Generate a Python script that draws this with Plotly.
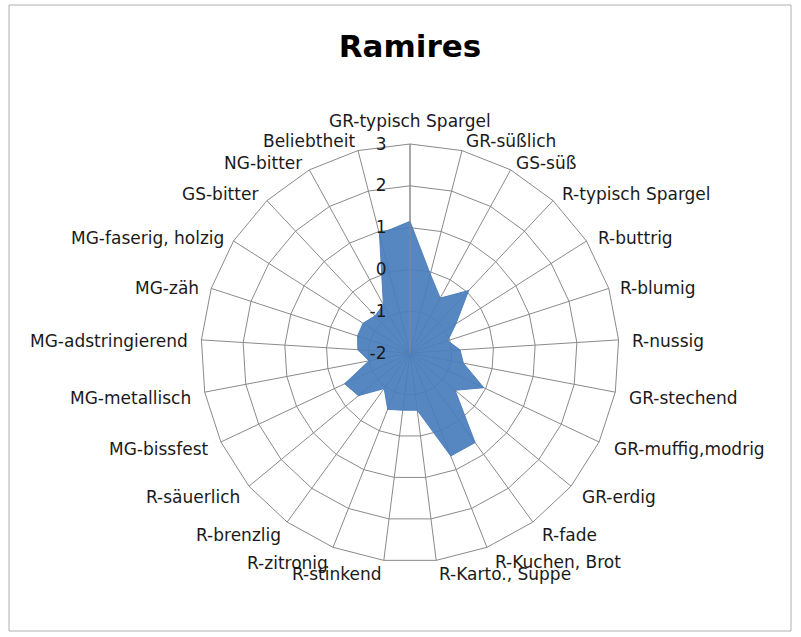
import plotly.graph_objects as go

categories = ["GR-typisch Spargel", "GR-süßlich", "GS-süß", "R-typisch Spargel", "R-buttrig",
              "R-blumig", "R-nussig", "GR-stechend", "GR-muffig,modrig", "GR-erdig", "R-fade",
              "R-Kuchen, Brot", "R-Karto., Suppe", "R-stinkend", "R-zitronig", "R-brenzlig",
              "R-säuerlich", "MG-bissfest", "MG-metallisch", "MG-adstringierend", "MG-zäh",
              "MG-faserig, holzig", "GS-bitter", "NG-bitter", "Beliebtheit"]
values = [1.15, -0.05, -0.5, 0.05, -0.7, -1.05, -0.8, -0.7, -0.05, -0.6, 0.65, 0.65, -0.62,
          -0.62, -0.55, -0.95, -0.4, -0.27, -1.0, -0.75, -0.68, -0.67, -0.78, -0.68, 0.94]
radial_ticks = [-2, -1, 0, 1, 2, 3]

W, H = 801, 637
cx, cy, R = 410, 353, 209
FONT = "DejaVu Sans, Open Sans, sans-serif"

# pixel centres of the category labels (layout only)
label_xy = [(410, 121), (511, 141), (546, 163), (636, 194), (635, 238), (658, 288),
            (668, 341), (683, 398), (689, 449), (619, 497), (569, 535), (558, 562),
            (505, 574), (337, 574), (287, 563), (238, 535), (193, 497), (159, 449),
            (130, 398), (109, 341), (167, 288), (147, 238), (220, 194), (263, 163),
            (309, 141)]

fig = go.Figure()
fig.add_trace(go.Scatterpolar(
    r=values + values[:1], theta=categories + categories[:1],
    mode="lines", fill="toself",
    fillcolor="rgba(74,126,187,0.93)",
    line=dict(color="rgba(74,126,187,0.93)", width=1),
    showlegend=False, hoverinfo="r+theta"))

annotations = [dict(text=c, x=px / W, y=1 - py / H, xref="paper", yref="paper",
                    xanchor="center", yanchor="middle", showarrow=False,
                    font=dict(size=17, color="#1a1a1a", family=FONT))
               for c, (px, py) in zip(categories, label_xy)]

fig.update_layout(
    width=W, height=H,
    margin=dict(l=0, r=0, t=0, b=0),
    paper_bgcolor="white", plot_bgcolor="white",
    font=dict(family=FONT, size=17, color="#1a1a1a"),
    title=dict(text="<b>Ramires</b>", x=cx / W, xanchor="center",
               y=1 - 46 / H, yanchor="middle",
               font=dict(size=31, color="#000000", family=FONT)),
    polar=dict(
        domain=dict(x=[(cx - R) / W, (cx + R) / W], y=[(H - cy - R) / H, (H - cy + R) / H]),
        bgcolor="white",
        gridshape="linear",
        angularaxis=dict(direction="clockwise", rotation=90, type="category",
                         categoryarray=categories, showticklabels=False,
                         showgrid=True, gridcolor="#8a8a8a", gridwidth=1,
                         showline=True, linecolor="#8a8a8a", linewidth=1, ticks=""),
        radialaxis=dict(range=[-2, 3], tickvals=radial_ticks, ticktext=[str(t) for t in radial_ticks],
                        angle=90, side="counterclockwise", tickangle=90,
                        showgrid=True, gridcolor="#8a8a8a", gridwidth=1,
                        showline=True, linecolor="#8a8a8a", linewidth=1,
                        ticks="outside", ticklen=17, tickcolor="rgba(0,0,0,0)",
                        tickfont=dict(size=17, color="#1a1a1a", family=FONT)),
    ),
    annotations=annotations,
    shapes=[dict(type="rect", xref="paper", yref="paper",
                 x0=9 / W, x1=791 / W, y0=1 - 631 / H, y1=1 - 5 / H,
                 line=dict(color="#b0b0b0", width=1), fillcolor="rgba(0,0,0,0)")],
)

fig.write_html("out.html", config={"displayModeBar": False},
               post_script="document.body.style.margin='0';document.body.style.padding='0';")
